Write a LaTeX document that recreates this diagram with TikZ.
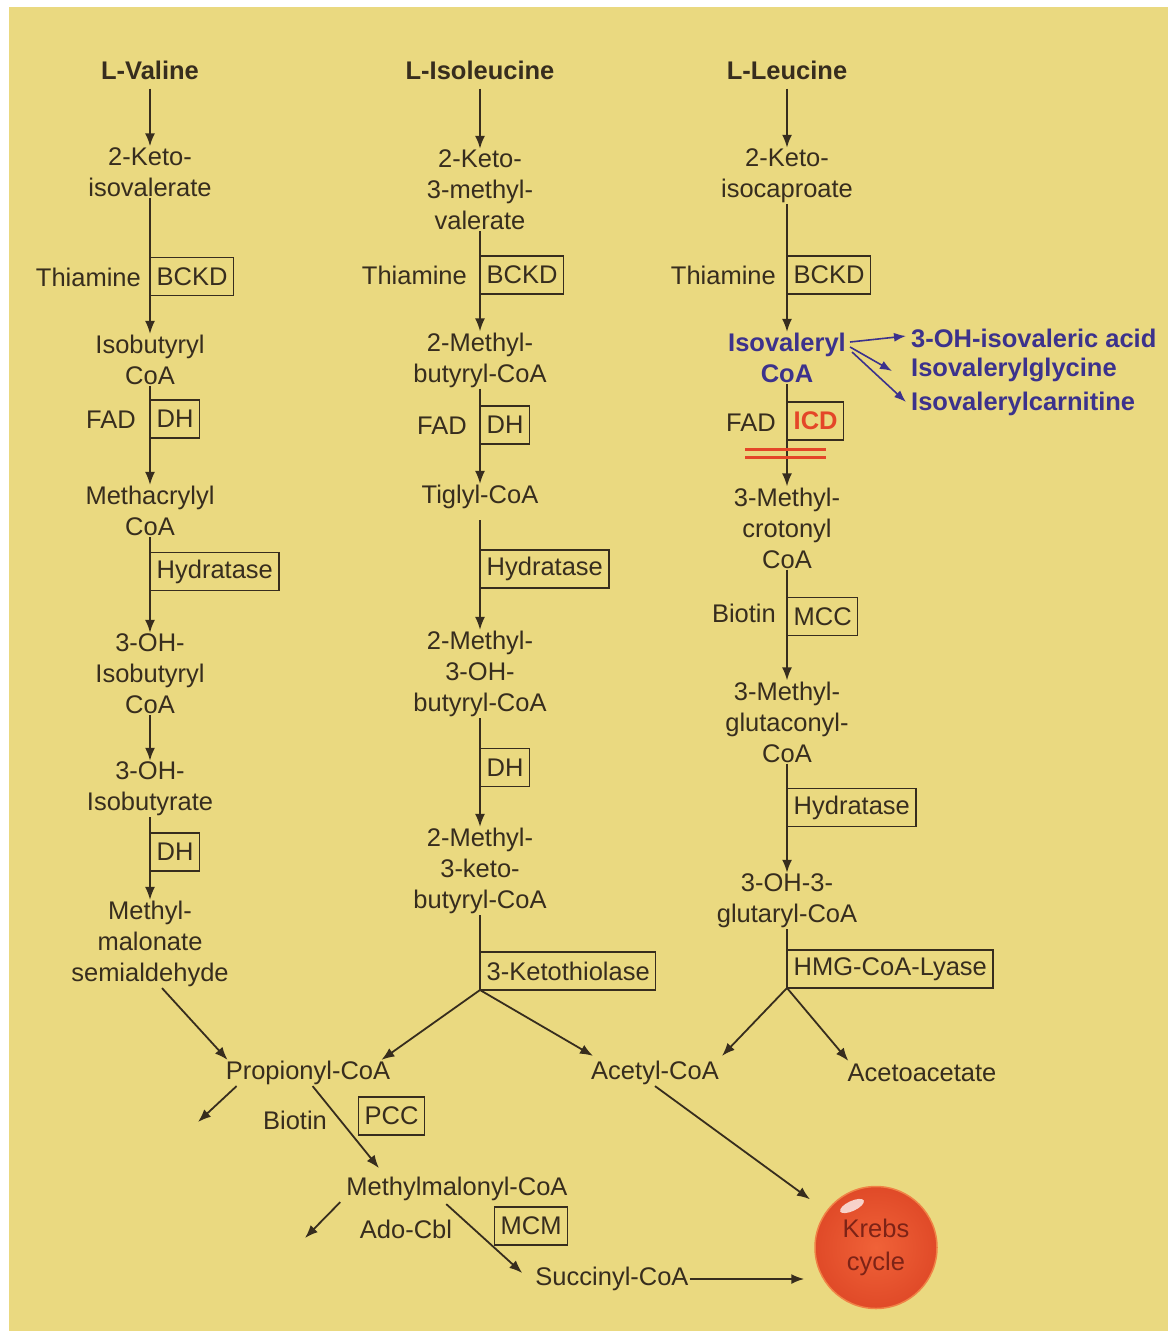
\documentclass[tikz,border=0pt]{standalone}
\usepackage{fontspec}
\setmainfont{Liberation Sans}
\usetikzlibrary{arrows.meta}
\definecolor{bg}{RGB}{234,217,128}
\definecolor{ink}{RGB}{55,45,30}
\definecolor{blu}{RGB}{60,50,140}
\definecolor{icdred}{RGB}{228,70,40}
\definecolor{krebsin}{RGB}{240,98,56}
\definecolor{krebsout}{RGB}{224,74,40}
\definecolor{krebsrim}{RGB}{240,130,70}
\definecolor{krebstext}{RGB}{125,35,22}
\newcommand\dfont{\fontsize{25.5}{31}\selectfont}
\begin{document}
\begin{tikzpicture}[x=1pt,y=-1pt,
 met/.style={font=\dfont, text=ink, align=center, inner sep=1pt},
 title/.style={font=\dfont\bfseries, text=ink, inner sep=1pt},
 enz/.style={draw=ink, line width=1.4pt, font=\dfont, text=ink, inner xsep=6pt, inner ysep=0pt, minimum height=38pt, anchor=west},
 cof/.style={font=\dfont, text=ink, inner sep=1pt, anchor=east},
 arr/.style={draw=ink, line width=1.8pt, -{Latex[length=13pt,width=10pt]}},
 ln/.style={draw=ink, line width=1.8pt},
 barr/.style={draw=blu, line width=1.6pt, -{Latex[length=12pt,width=9pt]}},
 side/.style={font=\dfont\bfseries, text=blu, inner sep=1pt, anchor=west},
]
\useasboundingbox (0,0) rectangle (1171,1331);
\fill[white] (0,0) rectangle (1171,1331);
\fill[bg] (9,7) rectangle (1168,1331);

% ---------------- Valine column
\node[title] (val) at (150,70) {L-Valine};
\node[met] (k1) at (150,172) {2-Keto-\\isovalerate};
\node[met] (ib) at (150,360) {Isobutyryl\\CoA};
\node[met] (mac) at (150,511) {Methacrylyl\\CoA};
\node[met] (ohib) at (150,674) {3-OH-\\Isobutyryl\\CoA};
\node[met] (ohb) at (150,789) {3-OH-\\Isobutyrate};
\node[met] (mms) at (150,944) {Methyl-\\malonate\\semialdehyde};

\node[cof] (thi1) at (142,277) {Thiamine};
\node[enz] (bckd1) at (150,276.5) {BCKD};
\node[cof] (fad1) at (137,420) {FAD};
\node[enz] (dh1) at (150,419) {DH};
\node[enz] (hyd1) at (150,571.5) {Hydratase};
\node[enz] (dh1b) at (150,852) {DH};

\draw[arr,shorten <=8pt] (val) -- (k1);
\draw[arr] (k1) -- (ib);
\draw[arr] (ib) -- (mac);
\draw[arr] (mac) -- (ohib);
\draw[arr] (ohib) -- (ohb);
\draw[arr] (ohb) -- (mms);

% ---------------- Isoleucine column
\node[title] (ile) at (480,70) {L-Isoleucine};
\node[met] (k2) at (480,190) {2-Keto-\\3-methyl-\\valerate};
\node[met] (mb) at (480,360) {2-Methyl-\\butyryl-CoA};
\node[met] (tig) at (480,497) {Tiglyl-CoA};
\node[met] (mhb) at (480,674) {2-Methyl-\\3-OH-\\butyryl-CoA};
\node[met] (mkb) at (480,871) {2-Methyl-\\3-keto-\\butyryl-CoA};

\node[cof] (thi2) at (468,275) {Thiamine};
\node[enz] (bckd2) at (480,275) {BCKD};
\node[cof] (fad2) at (468,426) {FAD};
\node[enz] (dh2) at (480,425) {DH};
\node[enz] (hyd2) at (480,569) {Hydratase};
\node[enz] (dh2b) at (480,767.5) {DH};
\node[enz] (kt) at (480,971) {3-Ketothiolase};
\coordinate (br2) at (480,990);

\draw[arr,shorten <=8pt] (ile) -- (k2);
\draw[arr] (k2) -- (mb);
\draw[arr] (mb) -- (tig);
\draw[arr,shorten <=10pt] (tig) -- (mhb);
\draw[arr] (mhb) -- (dh2b.west) -- (mkb);
\draw[ln] (mkb) -- (br2);

% ---------------- Leucine column
\node[title] (leu) at (787,70) {L-Leucine};
\node[met] (k3) at (787,176) {2-Keto-\\isocaproate};
\node[met, font=\dfont\bfseries, text=blu] (iv) at (787,358) {Isovaleryl\\CoA};
\node[met] (mc) at (787,528) {3-Methyl-\\crotonyl\\CoA};
\node[met] (mg) at (787,722) {3-Methyl-\\glutaconyl-\\CoA};
\node[met] (hmg) at (787,901) {3-OH-3-\\glutaryl-CoA};

\node[cof] (thi3) at (777,275) {Thiamine};
\node[enz] (bckd3) at (787,275) {BCKD};
\node[cof] (fad3) at (777,423) {FAD};
\node[enz, text=icdred, font=\dfont\bfseries] (icd) at (787,421) {ICD};
\node[cof] (bio3) at (777,613) {Biotin};
\node[enz] (mcc) at (787,616.5) {MCC};
\node[enz] (hyd3) at (787,807.5) {Hydratase};
\node[enz] (hmgl) at (787,969) {HMG-CoA-Lyase};
\coordinate (br3) at (787,988);

\draw[arr,shorten <=8pt] (leu) -- (k3);
\draw[arr] (k3) -- (iv);
\draw[arr] (iv) -- (mc);
\draw[arr] (mc) -- (mg);
\draw[arr] (mg) -- (hmg);
\draw[ln] (hmg) -- (br3);

% red block
\draw[icdred, line width=3pt] (745,449) -- (826,449);
\draw[icdred, line width=3pt] (745,457) -- (826,457);

% side products
\node[side] (s1) at (910,338) {3-OH-isovaleric acid};
\node[side] (s2) at (910,370) {Isovalerylglycine};
\node[side] (s3) at (910,404) {Isovalerylcarnitine};
\draw[barr] ([xshift=3pt,yshift=16pt]iv.east) -- ([xshift=-4pt,yshift=2pt]s1.west);
\draw[barr] ([xshift=3pt,yshift=11pt]iv.east) -- ([xshift=-18pt,yshift=-1pt]s2.west);
\draw[barr] ([xshift=5pt,yshift=6pt]iv.east) -- ([xshift=-4pt,yshift=2pt]s3.west);

% ---------------- bottom
\node[met] (prop) at (308,1073) {Propionyl-CoA};
\node[met] (acet) at (655,1073) {Acetyl-CoA};
\node[met] (aceto) at (922,1073) {Acetoacetate};
\node[met] (mmc) at (457,1189) {Methylmalonyl-CoA};
\node[met] (succ) at (612,1279) {Succinyl-CoA};
\node[circle, minimum size=122pt, inner sep=0pt, draw=krebsrim, line width=1.5pt,
      inner color=krebsin, outer color=krebsout] (krebs) at (876,1247.5) {};
\fill[white, opacity=0.75, rotate around={25:(852,1206)}] (852,1206) ellipse (13pt and 5pt);
\node[font=\fontsize{25.5}{33}\selectfont, text=krebstext, align=center, inner sep=0pt] (klabel) at (krebs.center) {Krebs\\cycle};

\node[met] (bio4) at (295,1120) {Biotin};
\node[enz] (pcc) at (358,1116) {PCC};
\node[met] (ado) at (406,1229) {Ado-Cbl};
\node[enz] (mcm) at (494,1226) {MCM};

\coordinate (pl) at (198,1122);
\coordinate (ml) at (305,1238);

\draw[arr] ([xshift=12pt]mms.south) -- ([xshift=3pt]prop.north west);
\draw[arr] (br2) -- ([xshift=-10pt]prop.north east);
\draw[arr] (br2) -- ([xshift=3pt,yshift=4pt]acet.north west);
\draw[arr] (br3) -- ([xshift=2pt,yshift=4pt]acet.north east);
\draw[arr] (br3) -- ([xshift=2pt,yshift=2pt]aceto.north west);

\draw[arr] ([xshift=12pt]prop.south west) -- (pl);
\draw[arr,shorten >=10pt] ([xshift=88pt]prop.south west) -- ([xshift=40pt]mmc.north west);
\draw[arr] ([xshift=-5pt]mmc.south west) -- (ml);
\draw[arr] ([xshift=101pt,yshift=-2pt]mmc.south west) -- ([xshift=-12pt,yshift=6pt]succ.west);
\draw[arr,shorten >=10pt] (succ.east) -- (succ.east -| krebs.west);
\draw[arr,shorten >=20pt] (acet.south) -- (krebs);
\end{tikzpicture}
\end{document}
